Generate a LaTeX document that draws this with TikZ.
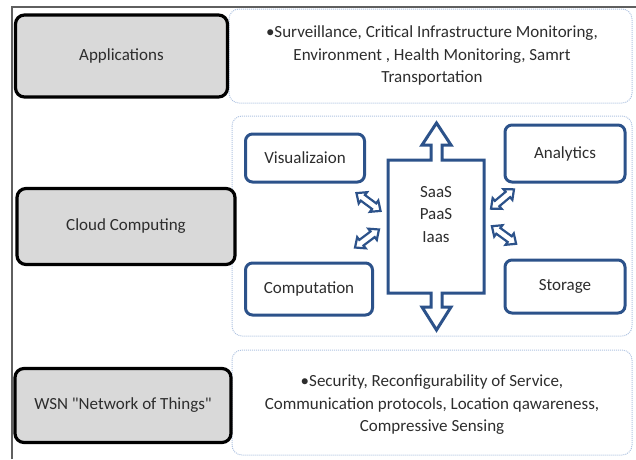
\documentclass[tikz,border=0pt]{standalone}
\usepackage{fontspec}
\setmainfont{Carlito}[Ligatures=TeXOff]
\definecolor{cblue}{RGB}{44,82,138}
\definecolor{pblue}{RGB}{175,195,225}
\definecolor{bfill}{RGB}{217,217,217}
\definecolor{tgray}{RGB}{45,45,45}
\definecolor{fgray}{RGB}{95,95,95}
\begin{document}
\begin{tikzpicture}[x=1pt,y=-1pt,
  every node/.style={font=\fontsize{17}{22.5}\selectfont, text=tgray, align=center},
  layerbox/.style={draw=black, line width=3.2pt, fill=bfill, rounded corners=9pt},
  panel/.style={draw=pblue, densely dotted, line width=1pt, rounded corners=10pt},
  svcbox/.style={draw=cblue, line width=3pt, rounded corners=7pt, fill=white},
  arrowshape/.style={draw=cblue, line width=2.2pt, fill=white, line join=miter}]
\useasboundingbox (0,0) rectangle (636,459);
% outer frame
\draw[fgray, line width=2pt] (12,459) -- (12,7) -- (636,7);
% panels
\draw[panel] (229,9) rectangle (632,103);
\draw[panel] (232,116) rectangle (632,336);
\draw[panel] (232,350) rectangle (632,455);
% layer boxes
\node[layerbox, minimum width=212pt, minimum height=82pt] (app) at (121.5,56) {Applications};
\node[layerbox, minimum width=218pt, minimum height=76pt] (cloud) at (126,226.5) {Cloud Computing};
\node[layerbox, minimum width=216pt, minimum height=74pt] (wsn) at (123,405.5) {WSN "Network of Things"};
% panel texts
\node (apptext) at (432,55.5) {\textbullet Surveillance, Critical Infrastructure Monitoring,\\ Environment , Health Monitoring, Samrt\\ Transportation};
\node (wsntext) at (432,405) {\textbullet Security, Reconfigurability of Service,\\ Communication protocols, Location qawareness,\\ Compressive Sensing};
% centre box with arrows
\draw[arrowshape, line width=3pt] (388,160) -- (431,160) -- (431,145) -- (422,145) -- (436.5,123) -- (451,145) -- (442,145) -- (442,160)
  -- (484,160) -- (484,293) -- (442,293) -- (442,307) -- (451,307) -- (436.5,330) -- (422,307) -- (431,307) -- (431,293) -- (388,293) -- cycle;
\node (core) at (436,214.5) {SaaS\\ PaaS\\ Iaas};
% service boxes
\node[svcbox, minimum width=119pt, minimum height=48pt] (vis) at (305,158) {Visualizaion};
\node[svcbox, minimum width=127pt, minimum height=52pt] (comp) at (309,289) {Computation};
\node[svcbox, minimum width=120pt, minimum height=57pt] (ana) at (565,153.5) {Analytics};
\node[svcbox, minimum width=120pt, minimum height=53pt] (sto) at (565,286.5) {Storage};
% double arrows
\foreach \cx/\cy/\ang in {368.5/202/-36.5, 367/238.5/37, 502.5/199/40, 504/235/-36}{
  \begin{scope}[shift={(\cx,\cy)}, rotate=\ang]
    \draw[arrowshape] (-15,0) -- (-7,7) -- (-7,3.5) -- (7,3.5) -- (7,7) -- (15,0) -- (7,-7) -- (7,-3.5) -- (-7,-3.5) -- (-7,-7) -- cycle;
  \end{scope}
}
\end{tikzpicture}
\end{document}
